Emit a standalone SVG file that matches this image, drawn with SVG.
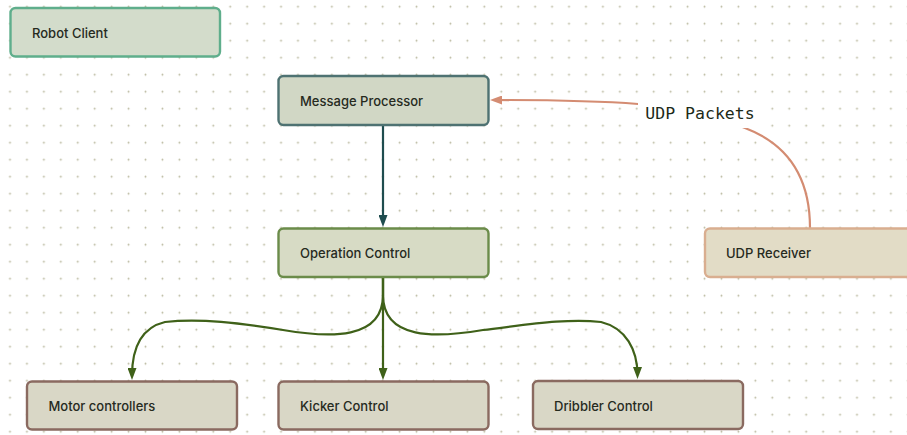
<svg xmlns="http://www.w3.org/2000/svg" width="907" height="435" viewBox="0 0 907 435">
  <style>
    .box { stroke-width: 2.4; }
    .lbl { font-family: Inter, "Liberation Sans", Arial, sans-serif; font-size: 13px; font-weight: 500; fill: #262a1e; }
    .edge { fill: none; stroke-width: 2.2; }
    .mono { font-family: "DejaVu Sans Mono", "Liberation Mono", monospace; font-size: 16.5px; fill: #1c2a18; }
  </style>
  <defs>
    <pattern id="dots" x="1.53" y="-1.8" width="16.94" height="17" patternUnits="userSpaceOnUse">
      <circle cx="8.47" cy="8.5" r="0.95" fill="#b8b79c"/>
    </pattern>
    <marker id="arrTeal" viewBox="0 0 12 9" refX="8" refY="4.5" markerWidth="12" markerHeight="9" markerUnits="userSpaceOnUse" orient="auto">
      <path d="M0,0 L12,4.5 L0,9 z" fill="#1f4d4f"/>
    </marker>
    <marker id="arrGreen" viewBox="0 0 12 9" refX="8" refY="4.5" markerWidth="12" markerHeight="9" markerUnits="userSpaceOnUse" orient="auto">
      <path d="M0,0 L12,4.5 L0,9 z" fill="#3f6119"/>
    </marker>
    <marker id="arrSalmon" viewBox="0 0 12 9" refX="8" refY="4.5" markerWidth="12" markerHeight="9" markerUnits="userSpaceOnUse" orient="auto">
      <path d="M0,0 L12,4.5 L0,9 z" fill="#d48c72"/>
    </marker>
  </defs>
  <rect width="907" height="435" fill="#ffffff"/>
  <rect width="907" height="435" fill="url(#dots)"/>

  <g id="connectors">
    <path class="edge" stroke="#1f4d4f" d="M383,126 L383,223" marker-end="url(#arrTeal)"/>
    <path class="edge" stroke="#3f6119" d="M383,278 L383,376" marker-end="url(#arrGreen)"/>
    <path class="edge" stroke="#3f6119" d="M383,278 L383,295 C383,340 330,338 283,330 C240,323 200,318 165,322 C140,328 132,350 132,376" marker-end="url(#arrGreen)"/>
    <path class="edge" stroke="#3f6119" d="M383,278 L383,295 C383,340 436,338 483,330 C526,325 566,318 601,322 C626,328 637.5,350 637.5,375" marker-end="url(#arrGreen)"/>
    <path class="edge" stroke="#d48c72" d="M810,228 C810,180 790,145 745,128 C720,118 680,106 638,104 C600,101 540,100 494,100" marker-end="url(#arrSalmon)"/>
    <g id="udp-label">
      <rect x="638" y="96" width="124" height="32" fill="#ffffff"/>
      <text class="mono" x="700" y="118.5" text-anchor="middle">UDP Packets</text>
    </g>
  </g>

  <g id="robot-client">
    <rect class="box" x="10.5" y="8" width="209.5" height="48.5" rx="5" fill="#d3dccb" stroke="#5fae8c"/>
    <text class="lbl" x="32" y="38">Robot Client</text>
  </g>
  <g id="message-processor">
    <rect class="box" x="278.5" y="76" width="210" height="49" rx="5" fill="#d1d7c5" stroke="#4e7272"/>
    <text class="lbl" x="300" y="105.5">Message Processor</text>
  </g>
  <g id="operation-control">
    <rect class="box" x="278.5" y="228.5" width="210" height="48.5" rx="5" fill="#d7dbc5" stroke="#6b8c4a"/>
    <text class="lbl" x="300" y="258">Operation Control</text>
  </g>
  <g id="udp-receiver">
    <rect class="box" x="705" y="228.5" width="212" height="48.5" rx="5" fill="#e2dcc6" stroke="#d9ae90"/>
    <text class="lbl" x="726" y="258">UDP Receiver</text>
  </g>
  <g id="motor-controllers">
    <rect class="box" x="27" y="381.5" width="210" height="48" rx="5" fill="#d9d7c6" stroke="#8a6a60"/>
    <text class="lbl" x="48.5" y="410.5">Motor controllers</text>
  </g>
  <g id="kicker-control">
    <rect class="box" x="278.5" y="381.5" width="210" height="48" rx="5" fill="#d9d7c6" stroke="#8a6a60"/>
    <text class="lbl" x="300" y="410.5">Kicker Control</text>
  </g>
  <g id="dribbler-control">
    <rect class="box" x="533" y="381" width="210" height="48" rx="5" fill="#d9d7c6" stroke="#8a6a60"/>
    <text class="lbl" x="554" y="410.5">Dribbler Control</text>
  </g>
</svg>
